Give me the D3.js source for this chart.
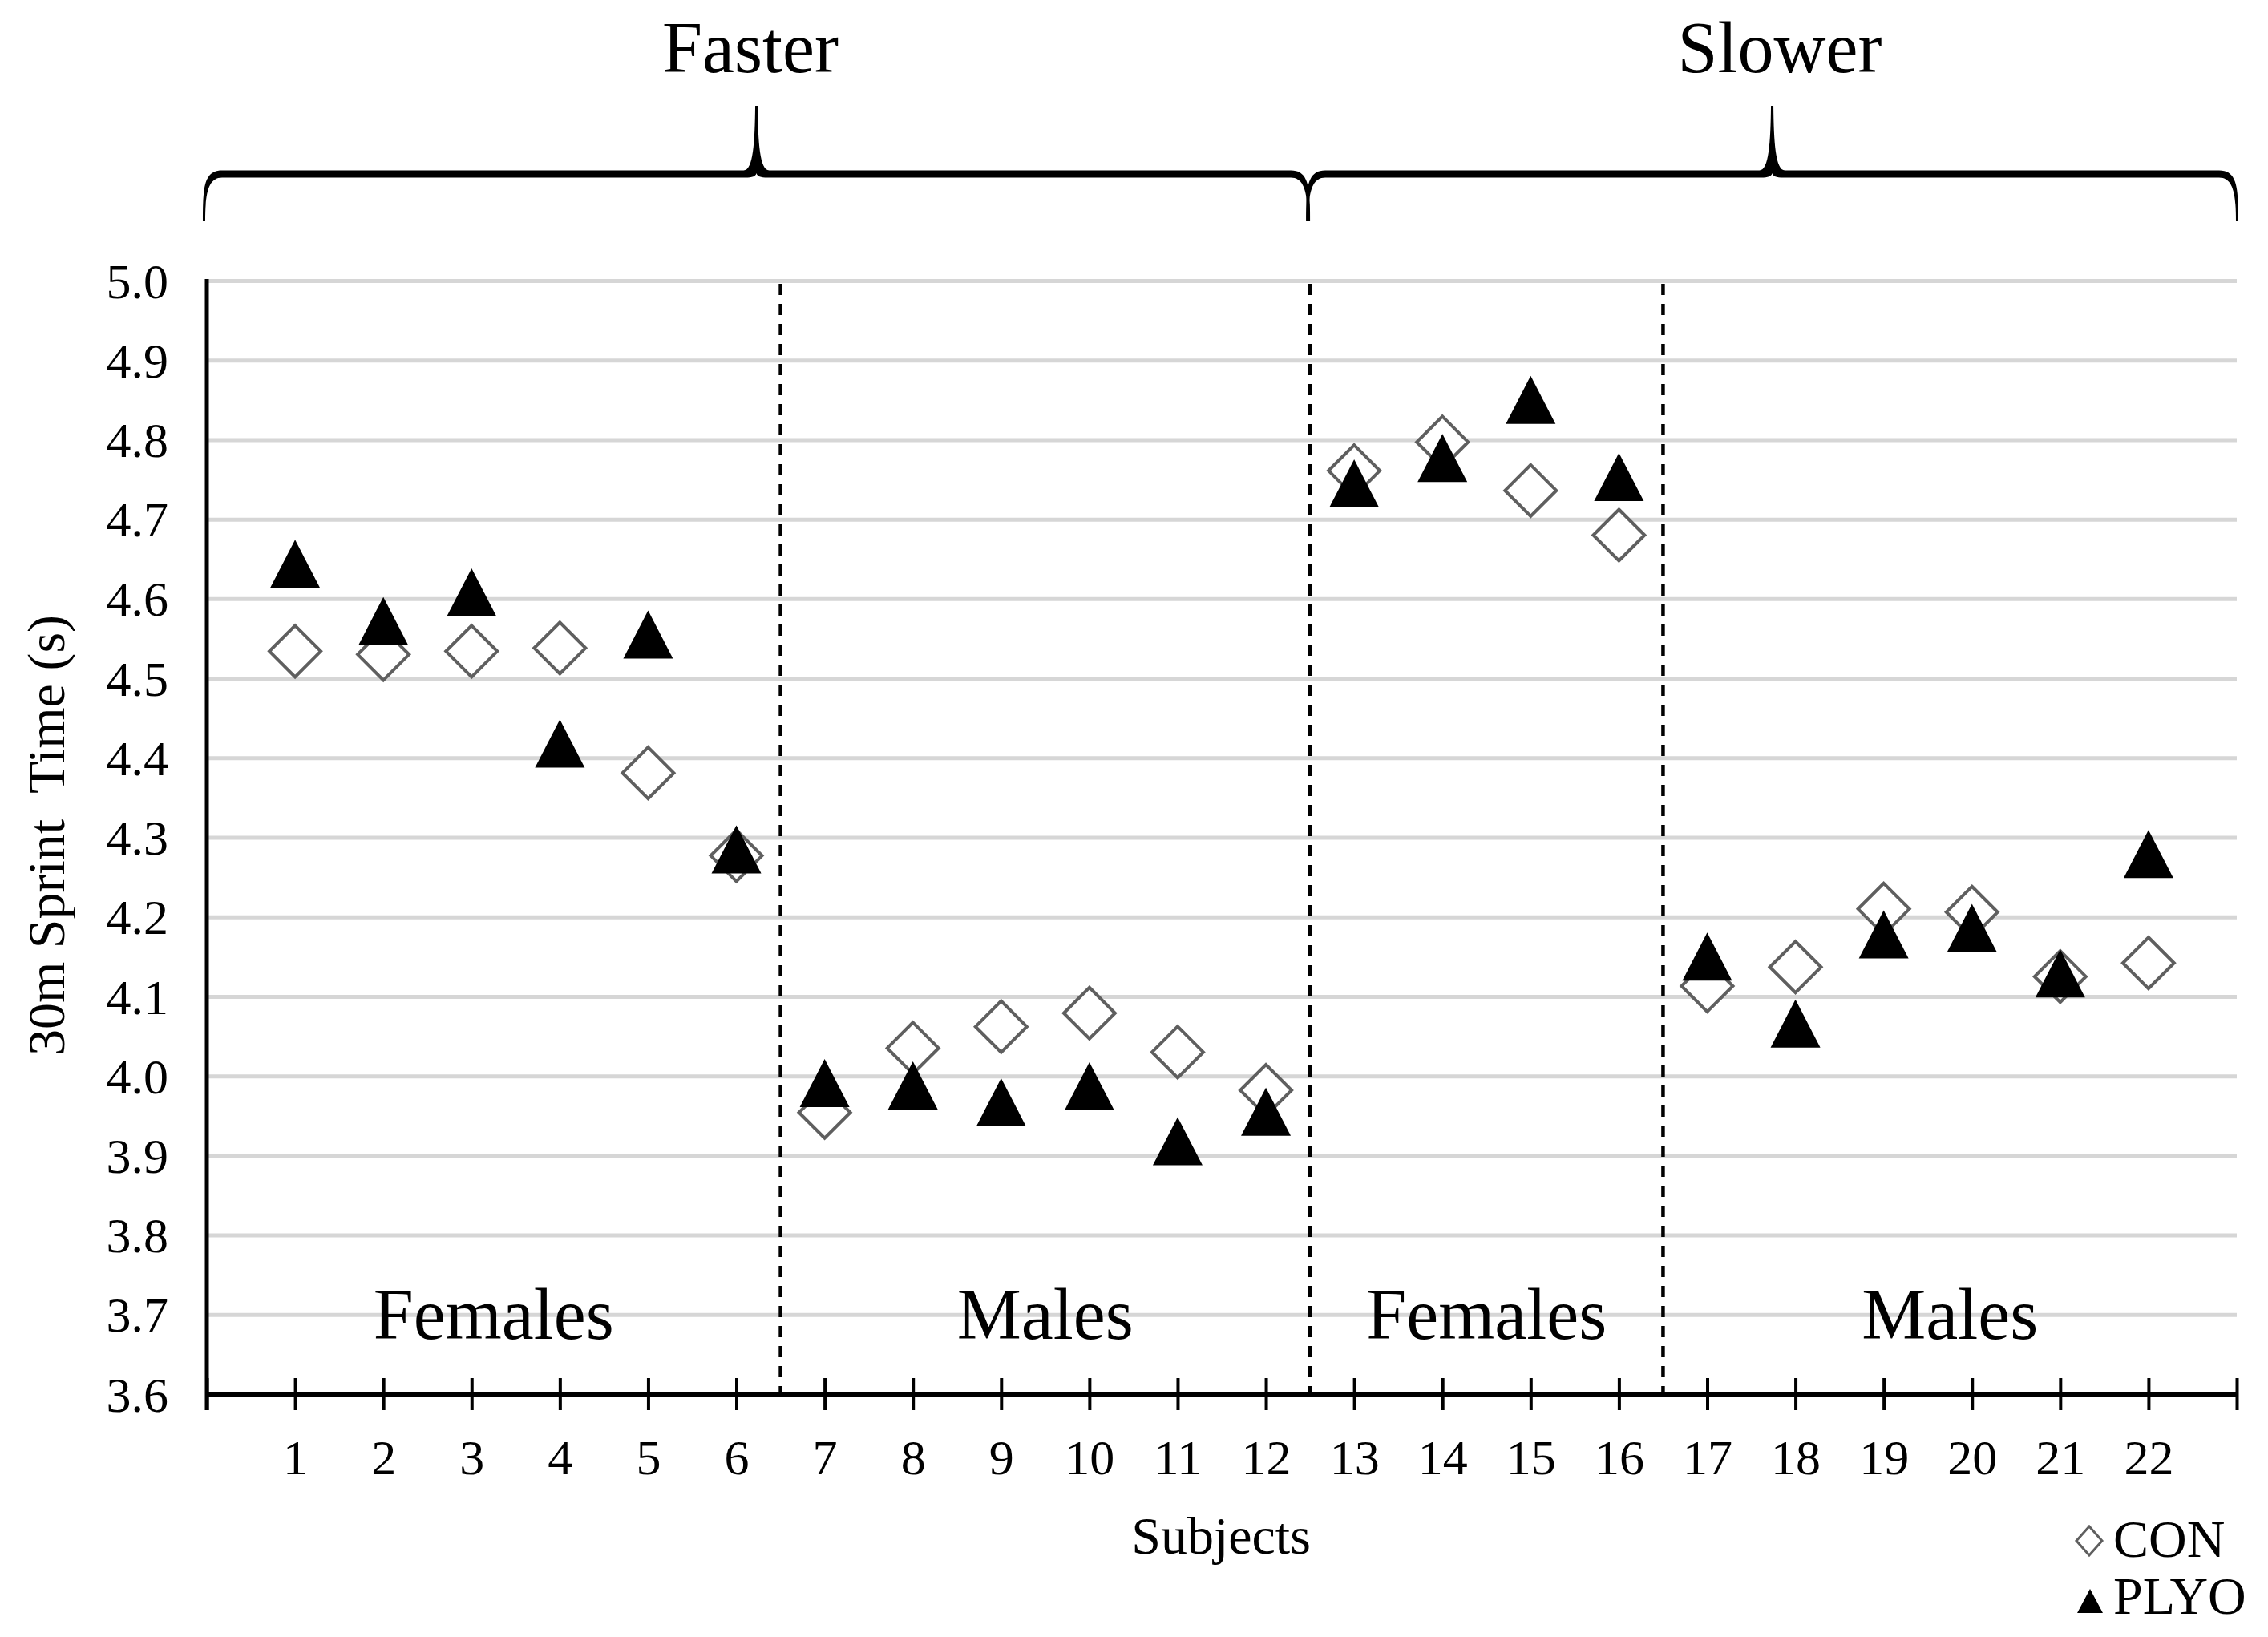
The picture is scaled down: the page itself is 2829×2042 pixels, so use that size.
<!DOCTYPE html>
<html>
<head>
<meta charset="utf-8">
<script src="https://cdn.jsdelivr.net/npm/d3@7/dist/d3.min.js"></script>
<style>
  html, body { margin: 0; padding: 0; background: #fff; }
  svg { display: block; }
  text { font-family: "Liberation Serif", "Times New Roman", serif; fill: #000; }
</style>
</head>
<body>
<svg id="chart" width="2829" height="2042"></svg>
<script>
// ---------------- data ----------------
const subjects = d3.range(1, 23);
const conValues  = [4.534, 4.530, 4.534, 4.538, 4.381, 4.277, 3.954, 4.035, 4.062, 4.079, 4.030, 3.982,
                    4.761, 4.797, 4.736, 4.680, 4.113, 4.137, 4.210, 4.206, 4.125, 4.142];
const plyoValues = [4.644, 4.572, 4.608, 4.418, 4.555, 4.285, 3.991, 3.988, 3.967, 3.987, 3.918, 3.955,
                    4.745, 4.777, 4.850, 4.753, 4.150, 4.066, 4.178, 4.186, 4.129, 4.279];
const yTicks = [3.6, 3.7, 3.8, 3.9, 4.0, 4.1, 4.2, 4.3, 4.4, 4.5, 4.6, 4.7, 4.8, 4.9, 5.0];
const xTicks = d3.range(0, 24);
const groupBounds = [0, 6.5, 12.5, 16.5, 23];
const groupLabels = ["Females", "Males", "Females", "Males"];
const dividers = [6.5, 12.5, 16.5];
const braceGroups = [
  { label: "Faster", from: 0, to: 12.5 },
  { label: "Slower", from: 12.5, to: 23 }
];
const seriesNames = ["CON", "PLYO"];

// ---------------- layout ----------------
const svg = d3.select("#chart");
const pLeft = 258, pRight = 2790, pTop = 350, pBottom = 1739;
const x = d3.scaleLinear().domain([0, 23]).range([pLeft, pRight]);
const y = d3.scaleLinear().domain([3.6, 5.0]).range([pBottom, pTop]);

svg.append("rect").attr("width", 2829).attr("height", 2042).attr("fill", "#fff");

// gridlines + y labels via axis
const yAxis = d3.axisLeft(y).tickValues(yTicks).tickFormat(d3.format(".1f"))
  .tickSize(-(pRight - pLeft)).tickPadding(48);
const yg = svg.append("g").attr("transform", `translate(${pLeft},0)`).call(yAxis);
yg.select(".domain").remove();
yg.selectAll(".tick line").attr("stroke", "#d6d6d6").attr("stroke-width", 5)
  .filter(d => d === 3.6).remove();
yg.selectAll(".tick text").attr("font-size", 62).attr("font-family", "Liberation Serif")
  .attr("fill", "#000").attr("dy", "0.34em");

// dividers (dashed)
svg.append("g").selectAll("line").data(dividers).join("line")
  .attr("x1", d => x(d)).attr("x2", d => x(d))
  .attr("y1", pTop + 4).attr("y2", pBottom)
  .attr("stroke", "#000").attr("stroke-width", 4.5)
  .attr("stroke-dasharray", "14 11");

// x axis
const xAxis = d3.axisBottom(x).tickValues(xTicks)
  .tickFormat(d => (d >= 1 && d <= 22) ? String(d) : "")
  .tickSize(20).tickSizeOuter(0);
const xg = svg.append("g").attr("transform", `translate(0,${pBottom})`).call(xAxis);
xg.select(".domain").attr("stroke", "#000").attr("stroke-width", 6);
xg.selectAll(".tick line").attr("y1", -20).attr("y2", 20)
  .attr("stroke", "#000").attr("stroke-width", 4);
xg.selectAll(".tick text").attr("y", 100).attr("dy", 0)
  .attr("font-size", 62).attr("font-family", "Liberation Serif").attr("fill", "#000");

// y axis line
svg.append("line").attr("x1", pLeft).attr("x2", pLeft)
  .attr("y1", pTop - 2).attr("y2", pBottom + 20)
  .attr("stroke", "#000").attr("stroke-width", 5);

// group labels
svg.append("g").selectAll("text").data(groupLabels).join("text")
  .attr("x", (d, i) => x((groupBounds[i] + groupBounds[i + 1]) / 2))
  .attr("y", 1670)
  .attr("text-anchor", "middle").attr("font-size", 90)
  .text(d => d);

// markers
const diamond = (cx, cy, w, h) =>
  `M${cx},${cy - h / 2}L${cx + w / 2},${cy}L${cx},${cy + h / 2}L${cx - w / 2},${cy}Z`;
const triangle = (cx, cy, w, h) =>
  `M${cx},${cy - h / 2}L${cx + w / 2},${cy + h / 2}L${cx - w / 2},${cy + h / 2}Z`;

svg.append("g").selectAll("path").data(subjects).join("path")
  .attr("d", (s, i) => diamond(x(s), y(conValues[i]), 64, 64))
  .attr("fill", "#fff").attr("stroke", "#5f5f5f").attr("stroke-width", 4);

svg.append("g").selectAll("path").data(subjects).join("path")
  .attr("d", (s, i) => triangle(x(s), y(plyoValues[i]), 62, 60))
  .attr("fill", "#000");

// braces
function bracePath(xa, xb) {
  const xm = (xa + xb) / 2, yb = 217, ye = 276, yt = 132, h = 4.5;
  return [
    `M${xa - 2},${ye}`,
    `C${xa - 2},${yb + 18} ${xa - 1},${yb - h} ${xa + 22},${yb - h}`,
    `L${xm - 16},${yb - h}`,
    `C${xm - 4},${yb - h} ${xm - 2},${yb - 40} ${xm - 1.5},${yt}`,
    `L${xm + 1.5},${yt}`,
    `C${xm + 2},${yb - 40} ${xm + 4},${yb - h} ${xm + 16},${yb - h}`,
    `L${xb - 22},${yb - h}`,
    `C${xb + 1},${yb - h} ${xb + 2},${yb + 18} ${xb + 2},${ye}`,
    `L${xb - 1},${ye}`,
    `C${xb - 1},${yb + 26} ${xb - 4},${yb + h} ${xb - 22},${yb + h}`,
    `L${xm + 14},${yb + h}`,
    `C${xm + 5},${yb + h} ${xm + 1},${yb + 3} ${xm},${yb - 1}`,
    `C${xm - 1},${yb + 3} ${xm - 5},${yb + h} ${xm - 14},${yb + h}`,
    `L${xa + 22},${yb + h}`,
    `C${xa + 4},${yb + h} ${xa + 1},${yb + 26} ${xa + 1},${ye}`,
    "Z"
  ].join("");
}
const bg = svg.append("g");
bg.selectAll("path").data(braceGroups).join("path")
  .attr("d", d => bracePath(x(d.from) - 3, x(d.to) + (d.to === 23 ? 0 : -2)))
  .attr("fill", "#000");
bg.selectAll("text").data(braceGroups).join("text")
  .attr("x", (d, i) => x((d.from + d.to) / 2) + (i === 0 ? -10 : 8))
  .attr("y", 90)
  .attr("text-anchor", "middle").attr("font-size", 90)
  .text(d => d.label);

// axis titles
svg.append("text").attr("x", 1523).attr("y", 1938)
  .attr("text-anchor", "middle").attr("font-size", 66).text("Subjects");
svg.append("text")
  .attr("transform", "translate(80,1042) rotate(-90)")
  .attr("text-anchor", "middle").attr("font-size", 66)
  .attr("xml:space", "preserve").style("white-space", "pre")
  .text("30m Sprint  Time (s)");

// legend
const lg = svg.append("g");
lg.append("path").attr("d", diamond(2606, 1922, 32, 36))
  .attr("fill", "#fff").attr("stroke", "#5f5f5f").attr("stroke-width", 3);
lg.append("path").attr("d", triangle(2607, 1997, 32, 30)).attr("fill", "#000");
lg.selectAll("text").data(seriesNames).join("text")
  .attr("x", 2636).attr("y", (d, i) => i === 0 ? 1942 : 2013)
  .attr("font-size", 66).text(d => d);
</script>
</body>
</html>
